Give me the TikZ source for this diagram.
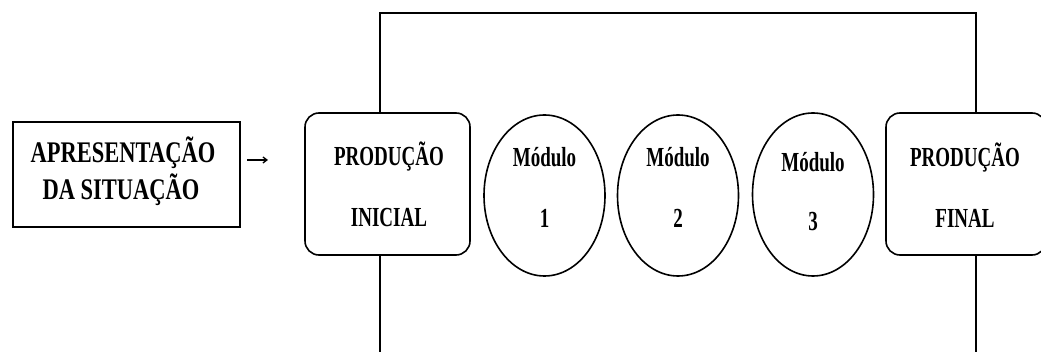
\documentclass[tikz,border=0pt]{standalone}
\usepackage{fontspec}
\usepackage{graphicx}
\setmainfont{Liberation Serif}
\usetikzlibrary{shapes.geometric,arrows.meta}
\newcommand\vst[1]{\scalebox{1}[1.45]{#1}}
\newcommand\vsl[1]{\scalebox{1}[1.33]{#1}}
\begin{document}
\begin{tikzpicture}[x=1pt,y=-1pt,line width=1.6pt,
  txt/.style={font=\bfseries\fontsize{19}{19}\selectfont, inner sep=0pt},
  ltxt/.style={font=\bfseries\fontsize{22.5}{22.5}\selectfont, inner sep=0pt},
  roundbox/.style={draw, rounded corners=14pt},
  modcircle/.style={draw, ellipse}]
\useasboundingbox (0,0) rectangle (1041,352);
% left box
\node[draw, minimum width=227pt, minimum height=105pt, inner sep=0pt] (apres) at (126.5,174.5) {};
\node[ltxt] (a1) at (123,153) {\vsl{APRESENTAÇÃO}};
\node[ltxt] (a2) at (121,190) {\vsl{DA SITUAÇÃO}};
\coordinate (arS) at (247,160);
\coordinate (arE) at (268,160);
\draw[line width=1.3pt,-{Straight Barb[length=4pt,width=6pt]}] (arS) -- (arE);
% initial
\node[roundbox, minimum width=165pt, minimum height=142pt, inner sep=0pt] (pi) at (387.5,184) {};
\node[txt] at (389,157) {\vst{PRODUÇÃO}};
\node[txt] at (389,218) {\vst{INICIAL}};
% modules
\node[modcircle, minimum width=121pt, minimum height=161pt, inner sep=0pt] (m1) at (544.5,195.5) {};
\node[txt] at (544.5,157) {\vst{Módulo}};
\node[txt] at (544.5,218) {\vst{1}};
\node[modcircle, minimum width=121pt, minimum height=161pt, inner sep=0pt] (m2) at (678,195.5) {};
\node[txt] at (678,157) {\vst{Módulo}};
\node[txt] at (678,218) {\vst{2}};
\node[modcircle, minimum width=121pt, minimum height=163pt, inner sep=0pt] (m3) at (813,194.5) {};
\node[txt] at (813,162) {\vst{Módulo}};
\node[txt] at (813,222) {\vst{3}};
% final
\node[roundbox, minimum width=160pt, minimum height=142pt, inner sep=0pt] (pf) at (966,184) {};
\node[txt] at (965,158) {\vst{PRODUÇÃO}};
\node[txt] at (965,218) {\vst{FINAL}};
% frame lines
\coordinate (tl) at (380,13);
\coordinate (tr) at (976,13);
\coordinate (bl) at (380,352);
\coordinate (br) at (976,352);
\draw (pi.north -| tl) -- (tl) -- (tr) -- (pf.north -| tr);
\draw (pi.south -| bl) -- (bl);
\draw (pf.south -| br) -- (br);
\end{tikzpicture}
\end{document}
